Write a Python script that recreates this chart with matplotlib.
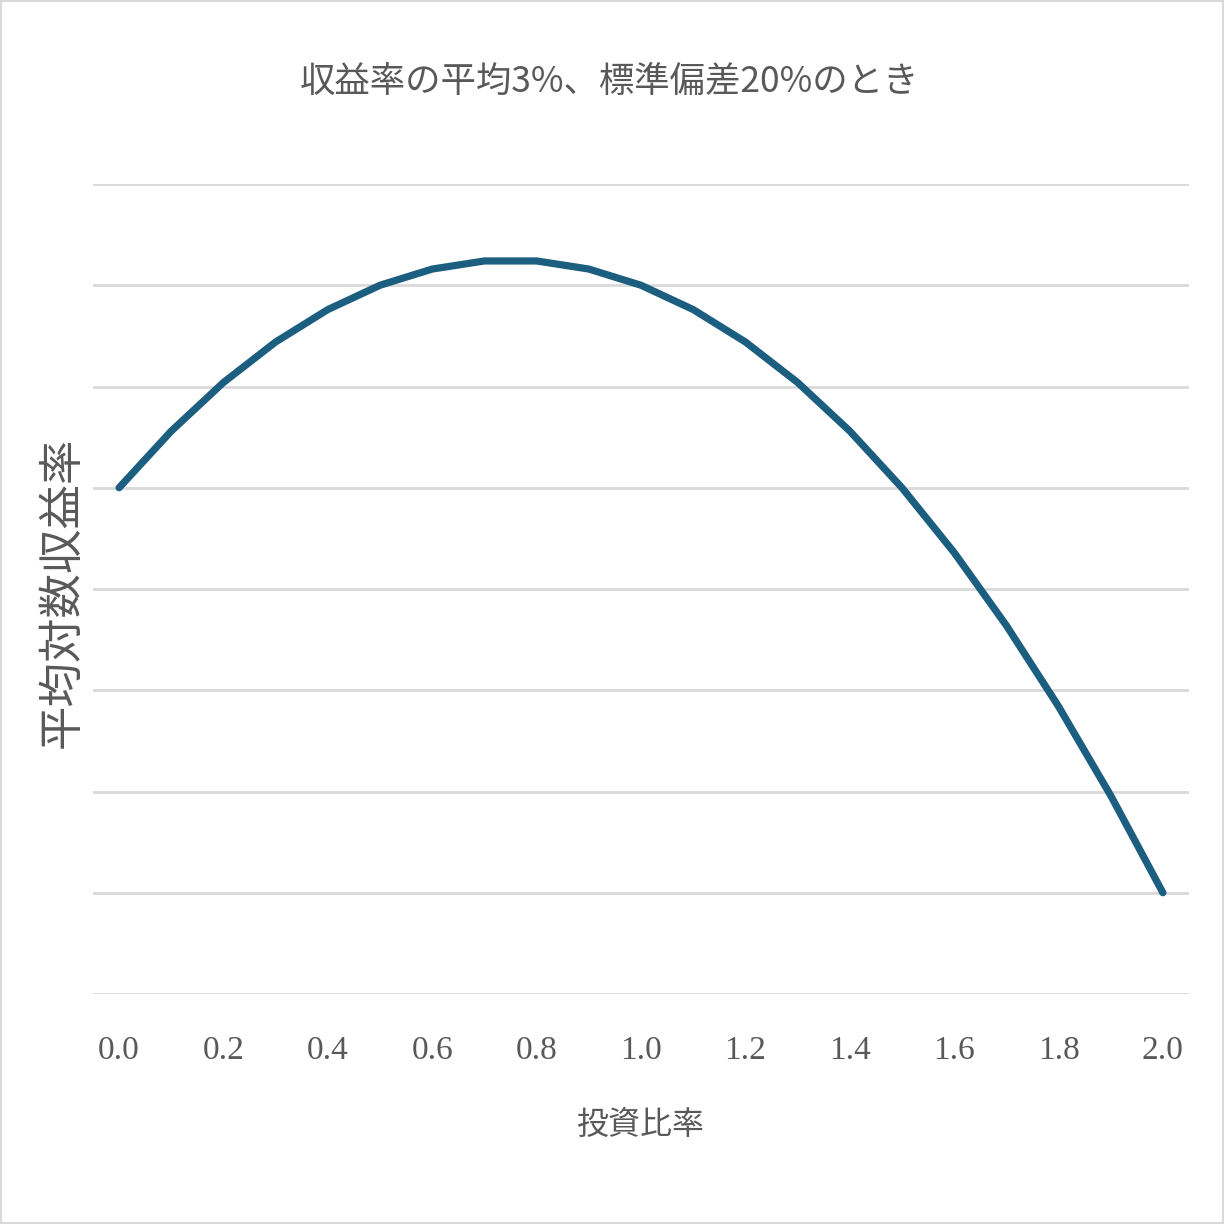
import matplotlib
matplotlib.use("Agg")
import matplotlib.pyplot as plt
from matplotlib.patches import Rectangle

# Data
ratio = [0.0, 0.1, 0.2, 0.3, 0.4, 0.5, 0.6, 0.7, 0.8, 0.9, 1.0,
         1.1, 1.2, 1.3, 1.4, 1.5, 1.6, 1.7, 1.8, 1.9, 2.0]
log_return = [0.0, 0.0028, 0.0052, 0.0072, 0.0088, 0.0100, 0.0108, 0.0112, 0.0112,
              0.0108, 0.0100, 0.0088, 0.0072, 0.0052, 0.0028, 0.0,
              -0.0032, -0.0068, -0.0108, -0.0152, -0.0200]
xtick_labels = ["0.0", "0.2", "0.4", "0.6", "0.8", "1.0", "1.2", "1.4", "1.6", "1.8", "2.0"]
yticks = [-0.025, -0.020, -0.015, -0.010, -0.005, 0.0, 0.005, 0.010, 0.015]

title = "収益率の平均3%、標準偏差20%のとき"
xlabel = "投資比率"
ylabel = "平均対数収益率"

cjk = ["Noto Sans CJK JP", "DejaVu Sans"]
gray = "#595959"

fig = plt.figure(figsize=(12.24, 12.24), dpi=100)
ax = fig.add_axes([93/1224, 1 - 994/1224, (1189-93)/1224, (994-184)/1224])

ax.plot(ratio, log_return, color="#1B5E80", lw=5.2, solid_capstyle="round",
        solid_joinstyle="round", zorder=3)

ax.set_xlim(-0.05, 2.05)
ax.set_ylim(-0.025, 0.015)
ax.set_yticks(yticks)
ax.set_yticklabels([])
ax.tick_params(axis="y", length=0)
ax.set_xticks([float(s) for s in xtick_labels])
ax.set_xticklabels(xtick_labels, fontfamily="Liberation Serif", fontsize=24, color=gray)
ax.tick_params(axis="x", length=0, pad=30)
ax.grid(axis="y", color="#D9D9D9", lw=2.0)
ax.set_axisbelow(True)
for s in ax.spines.values():
    s.set_visible(False)

fig.text(609/1224, 1 - 82/1224, title, ha="center", va="center",
         fontsize=25.5, color=gray, family=cjk)
fig.text(640/1224, 1 - 1125/1224, xlabel, ha="center", va="center",
         fontsize=23, color=gray, family=cjk)
fig.text(62/1224, 1 - 592/1224, ylabel, ha="center", va="center", rotation=90,
         fontsize=32, color=gray, family=cjk)

fig.patches.append(Rectangle((0.001, 0.001), 0.998, 0.998, transform=fig.transFigure,
                             fill=False, edgecolor="#D9D9D9", lw=1.5))

fig.savefig("out.png", dpi=100, facecolor="white")
